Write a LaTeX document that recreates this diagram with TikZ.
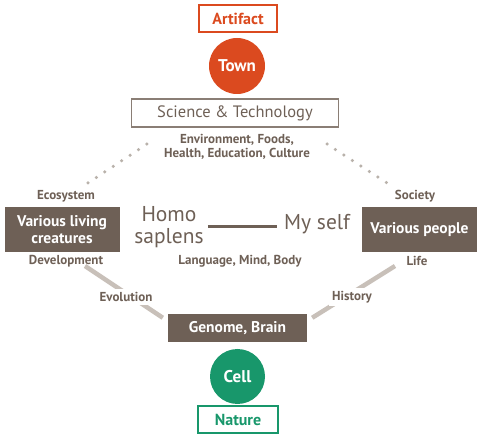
\documentclass[tikz,border=0pt]{standalone}
\usepackage{fontspec}
\setmainfont{PT Sans}
\usetikzlibrary{calc}
\definecolor{townred}{HTML}{DB4A1F}
\definecolor{cellgreen}{HTML}{18976B}
\definecolor{brn}{HTML}{6E6056}
\definecolor{brnline}{HTML}{8A7E75}
\definecolor{evogray}{HTML}{C8C0B9}
\definecolor{dotgray}{HTML}{B9B2AB}

\tikzset{
  tag/.style={draw,line width=1.2pt,inner sep=0pt,minimum height=27pt,font=\bfseries\fontsize{16}{18}\selectfont},
  disc/.style={circle,inner sep=0pt,text=white,font=\bfseries\fontsize{17}{19}\selectfont},
  brnbox/.style={fill=brn,inner sep=0pt,text=white,align=center,font=\bfseries\fontsize{15.5}{17}\selectfont},
  lbl/.style={text=brn,inner sep=1pt,align=center,font=\bfseries\fontsize{13}{14}\selectfont},
  big/.style={text=brn,inner sep=0pt,align=center,font=\fontsize{21.5}{21.5}\selectfont},
  dotline/.style={dotgray,line width=3.5pt,line cap=round,dash pattern=on 0pt off 10.1pt},
  evoline/.style={evogray,line width=4.5pt}
}

\begin{document}
\begin{tikzpicture}[x=1pt,y=-1pt]
\useasboundingbox (0,0) rectangle (482,435);

% top: artifact side
\node[tag,draw=townred,text=townred,minimum width=78pt] (artifact) at (238,18.5) {Artifact};
\node[disc,fill=townred,minimum size=56pt] (town) at (237,66) {Town};
\node[tag,draw=brnline,text=brn,minimum width=207pt,minimum height=28pt,font=\fontsize{16.5}{18}\selectfont] (scitech) at (235,113) {Science \& Technology};
\node[lbl] (envtext) at (237,147) {Environment, Foods,\\Health, Education, Culture};

% left and right boxes
\node[lbl] (eco) at (66,196) {Ecosystem};
\node[brnbox,minimum width=115pt,minimum height=45pt] (creatures) at (62,229.5) {Various living\\creatures};
\node[lbl] (devel) at (66,261) {Development};
\node[lbl] (society) at (415,196) {Society};
\node[brnbox,minimum width=115pt,minimum height=45pt] (people) at (419.5,229.5) {Various people};
\node[lbl] (life) at (417,261) {Life};

% middle
\node[big] (homo) at (169,227) {Homo\\saplens};
\node[big,anchor=west] (myself) at (284,224) {My self};
\draw[brn,line width=3pt] ([xshift=4pt]homo.east) -- ([xshift=-7pt]homo.east -| myself.west);
\node[lbl] (lang) at (240,261) {Language, Mind, Body};

% bottom: nature side
\node[brnbox,minimum width=139pt,minimum height=28pt] (genome) at (237.5,328) {Genome, Brain};
\node[disc,fill=cellgreen,minimum size=55pt] (cell) at (237.5,376.5) {Cell};
\node[tag,draw=cellgreen,text=cellgreen,minimum width=80pt] (nature) at (238,419.5) {Nature};

% dotted links
\coordinate (dotL1) at (88,183);
\coordinate (dotL2) at (147,144);
\coordinate (dotR1) at (327,144);
\coordinate (dotR2) at (387,183);
\draw[dotline] (dotL1) -- (dotL2);
\draw[dotline] (dotR1) -- (dotR2);

% evolution / history links
\coordinate (evoA) at (85,266);
\coordinate (histA) at (395,266);
\draw[evoline] (evoA) -- ([shift={(-5,4)}]genome.north west);
\draw[evoline] (histA) -- ([shift={(5,4)}]genome.north east);
\node[lbl,fill=white,inner sep=3pt] (evol) at (126,297) {Evolution};
\node[lbl,fill=white,inner sep=3pt] (hist) at (352,297) {History};
\end{tikzpicture}
\end{document}
